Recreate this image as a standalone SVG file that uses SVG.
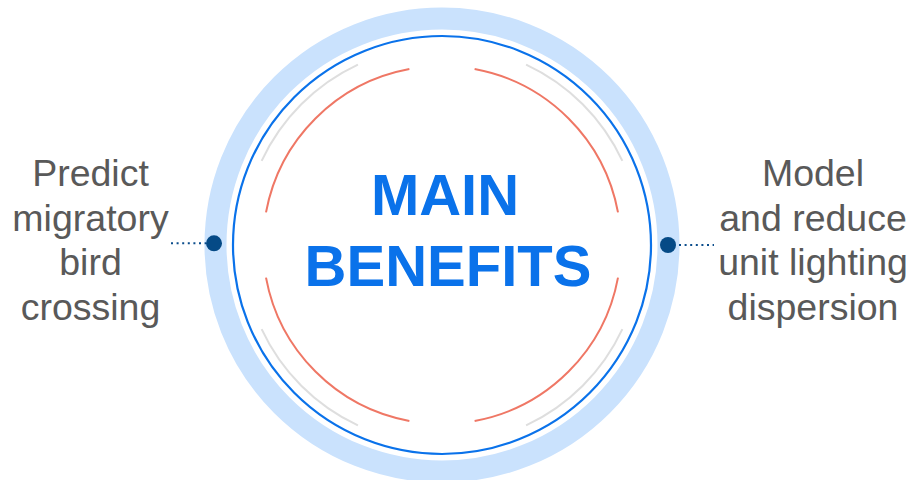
<svg xmlns="http://www.w3.org/2000/svg" width="914" height="480" viewBox="0 0 914 480">
  <style>
    .side { font-family: "Liberation Sans", Arial, sans-serif; font-size: 37.5px; fill: #595959; text-anchor: middle; }
    .main { font-family: "Liberation Sans", Arial, sans-serif; font-size: 58px; font-weight: bold; fill: #0a72ea; text-anchor: middle; }
    .red { fill: none; stroke: #ef7765; stroke-width: 2; }
    .gray { fill: none; stroke: #dedede; stroke-width: 2; }
    .dotline { fill: none; stroke: #0b4d8c; stroke-width: 2; stroke-dasharray: 2 3.6; }
    .anchor { fill: #054a86; }
  </style>
  <rect width="914" height="480" fill="#ffffff"/>
  <g id="center">
    <circle cx="442" cy="245" r="226.5" fill="none" stroke="#cae2fd" stroke-width="22"/>
    <circle cx="442" cy="245" r="209" fill="none" stroke="#0a72ea" stroke-width="2.2"/>
    <path class="gray" d="M261.64 160.9 A199 199 0 0 1 357.9 64.64"/>
    <path class="gray" d="M526.1 64.64 A199 199 0 0 1 622.36 160.9"/>
    <path class="gray" d="M622.36 329.1 A199 199 0 0 1 526.1 425.36"/>
    <path class="gray" d="M357.9 425.36 A199 199 0 0 1 261.64 329.1"/>
    <path class="red" d="M474.62 69 A179 179 0 0 1 618 212.38"/>
    <path class="red" d="M618 277.62 A179 179 0 0 1 474.62 421"/>
    <path class="red" d="M409.38 421 A179 179 0 0 1 266 277.62"/>
    <path class="red" d="M266 212.38 A179 179 0 0 1 409.38 69"/>
    <text class="main" x="445" y="215">MAIN</text>
    <text class="main" x="448" y="286">BENEFITS</text>
  </g>
  <g id="connectors">
    <line class="dotline" x1="171" y1="243.3" x2="206" y2="243.3"/>
    <line class="dotline" x1="679" y1="245" x2="714" y2="245"/>
    <circle class="anchor" cx="214" cy="243.3" r="8"/>
    <circle class="anchor" cx="668" cy="245" r="8"/>
  </g>
  <g id="left-benefit">
    <text class="side" x="90.5" y="186">Predict</text>
    <text class="side" x="90.5" y="230.5">migratory</text>
    <text class="side" x="90.5" y="275">bird</text>
    <text class="side" x="90.5" y="319.5">crossing</text>
  </g>
  <g id="right-benefit">
    <text class="side" x="813" y="186">Model</text>
    <text class="side" x="813" y="230.5">and reduce</text>
    <text class="side" x="813" y="275">unit lighting</text>
    <text class="side" x="813" y="319.5">dispersion</text>
  </g>
</svg>
